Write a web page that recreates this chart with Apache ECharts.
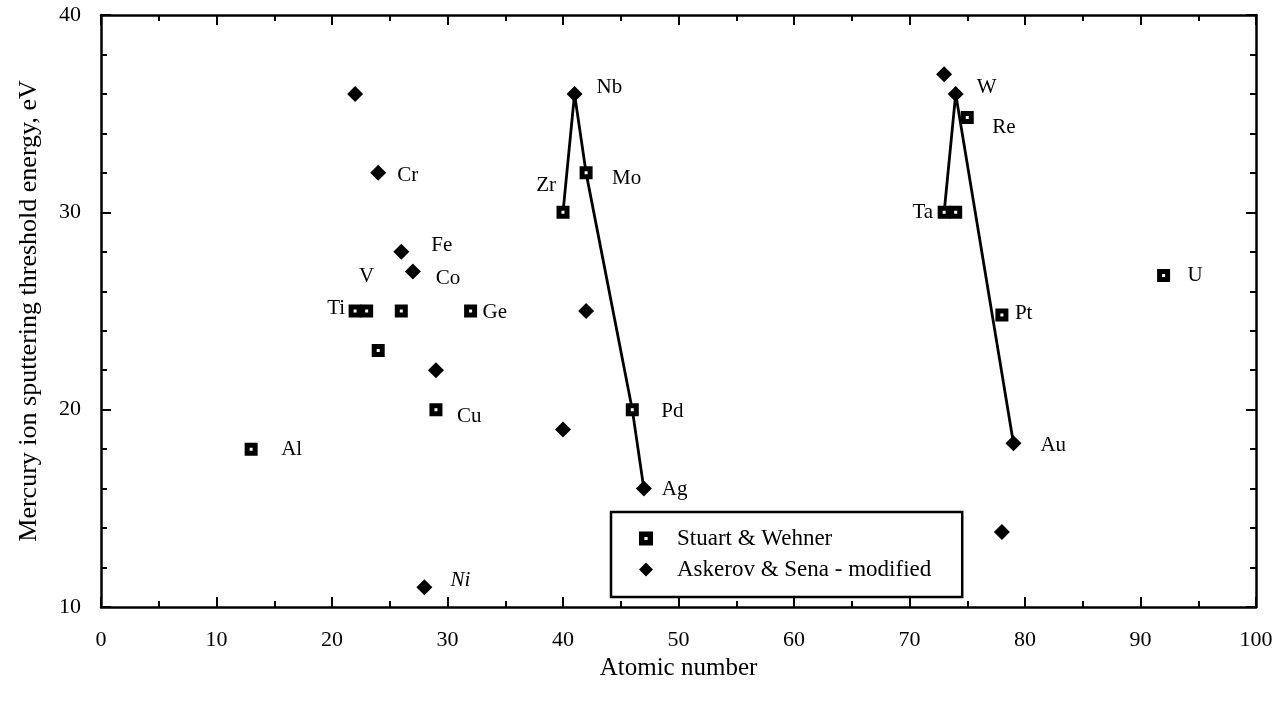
<!DOCTYPE html>
<html>
<head>
<meta charset="utf-8">
<script src="https://cdn.jsdelivr.net/npm/echarts@6/dist/echarts.min.js"></script>
<style>
  html, body { margin: 0; padding: 0; background: #fff; }
  #chart { width: 1287px; height: 713px; }
</style>
</head>
<body>
<div id="chart"></div>
<script>
// Stuart & Wehner (open squares)
const stuartNames = ['Al', 'Ti', 'V', 'Cr', 'Fe', 'Cu', 'Ge', 'Zr', 'Mo', 'Pd', 'Ta', 'W', 'Re', 'Pt', 'U']
const stuartZ = [13, 22, 23, 24, 26, 29, 32, 40, 42, 46, 73, 74, 75, 78, 92]
const stuartE = [18, 25, 25, 23, 25, 20, 25, 30, 32, 20, 30, 30, 34.8, 24.8, 26.8]

// Askerov & Sena - modified (diamonds)
const askerovNames = ['Ti', 'Cr', 'Fe', 'Co', 'Ni', 'Cu', 'Zr', 'Nb', 'Mo', 'Ag', 'Ta', 'W', 'Pt', 'Au']
const askerovZ = [22, 24, 26, 27, 28, 29, 40, 41, 42, 47, 73, 74, 78, 79]
const askerovE = [36, 32, 28, 27, 11, 22, 19, 36, 25, 16, 37, 36, 13.8, 18.3]

// connecting lines: [series, element]
const chainNb = [['S', 'Zr'], ['A', 'Nb'], ['S', 'Mo'], ['S', 'Pd'], ['A', 'Ag']]
const chainW = [['S', 'Ta'], ['A', 'W'], ['A', 'Au']]

const xTicks = [0, 10, 20, 30, 40, 50, 60, 70, 80, 90, 100]
const yTicks = [10, 20, 30, 40]

// label placement: [dx, dy, align, italic]
const stuartLabels = {
  Al: [30, 0, 'left'], Ti: [-10, -3, 'right'], V: [0, -35, 'center'], Ge: [12, 1, 'left'],
  Cu: [21, 7, 'left'], Zr: [-7, -27, 'right'], Mo: [26, 6, 'left'], Pd: [29, 2, 'left'],
  Ta: [-11, 0, 'right'], Re: [25, 10, 'left'], Pt: [13, -1, 'left'], U: [24, 0, 'left']
}
const askerovLabels = {
  Cr: [19, 3, 'left'], Fe: [30, -6, 'left'], Co: [23, 7, 'left'], Ni: [26, -7, 'left', true],
  Nb: [22, -6, 'left'], Ag: [18, 1, 'left'], W: [21, -6, 'left'], Au: [27, 2, 'left']
}

const serif = '"Liberation Serif", "DejaVu Serif", serif'
// black square with a small white hole, like the printed marker
const squareIcon = 'path://M0,0H13V13H0Z M5,5V8H8V5Z'

function buildPoints (names, xs, ys, labels) {
  return names.map((name, i) => {
    const item = { name: name, value: [xs[i], ys[i]] }
    const l = labels[name]
    if (l) {
      item.label = {
        show: true,
        formatter: name,
        position: 'inside',
        offset: [l[0], l[1]],
        align: l[2],
        verticalAlign: 'middle',
        color: '#000',
        fontFamily: serif,
        fontSize: 21,
        fontStyle: l[3] ? 'italic' : 'normal'
      }
    }
    return item
  })
}

function lookup (key, name) {
  if (key === 'S') {
    const i = stuartNames.indexOf(name)
    return [stuartZ[i], stuartE[i]]
  }
  const i = askerovNames.indexOf(name)
  return [askerovZ[i], askerovE[i]]
}

function chainLine (chain) {
  return {
    type: 'line',
    data: chain.map(c => lookup(c[0], c[1])),
    symbol: 'none',
    silent: true,
    z: 1,
    lineStyle: { color: '#000', width: 2.8 }
  }
}

const axisLine = { show: true, onZero: false, lineStyle: { color: '#000', width: 2.5 } }
const tick = { inside: true, length: 10, lineStyle: { color: '#000', width: 2 } }

const chart = echarts.init(document.getElementById('chart'))
chart.setOption({
  animation: false,
  backgroundColor: '#fff',
  grid: { left: 101, right: 31, top: 15, bottom: 106 },
  legend: {
    data: [
      { name: 'Stuart & Wehner', icon: squareIcon, itemStyle: { color: '#000', borderWidth: 0 } },
      { name: 'Askerov & Sena - modified', icon: 'diamond', itemStyle: { color: '#000', borderWidth: 0 } }
    ],
    orient: 'vertical',
    left: 611,
    top: 512,
    padding: [15, 31, 16, 28],
    itemGap: 8,
    itemWidth: 14,
    itemHeight: 14,
    borderColor: '#000',
    borderWidth: 2.5,
    textStyle: { color: '#000', fontFamily: serif, fontSize: 23, padding: [0, 0, 0, 19] }
  },
  xAxis: [
    {
      type: 'value', min: 0, max: 100, interval: 10,
      name: 'Atomic number', nameLocation: 'middle', nameGap: 48,
      nameTextStyle: { color: '#000', fontFamily: serif, fontSize: 25 },
      axisLine: axisLine,
      axisTick: tick,
      minorTick: { show: true, splitNumber: 2, length: 6, lineStyle: { color: '#000', width: 2 } },
      axisLabel: {
        color: '#000', fontFamily: serif, fontSize: 22, margin: 22,
        customValues: xTicks
      },
      splitLine: { show: false }
    },
    {
      type: 'value', min: 0, max: 100, interval: 10, position: 'top',
      axisLine: axisLine,
      axisTick: tick,
      minorTick: { show: true, splitNumber: 2, length: 6, lineStyle: { color: '#000', width: 2 } },
      axisLabel: { show: false },
      splitLine: { show: false }
    }
  ],
  yAxis: [
    {
      type: 'value', min: 10, max: 40, interval: 10,
      name: 'Mercury ion sputtering threshold energy, eV', nameLocation: 'middle', nameGap: 59,
      nameTextStyle: { color: '#000', fontFamily: serif, fontSize: 26, padding: [0, 0, 0, 0] },
      axisLine: axisLine,
      axisTick: tick,
      minorTick: { show: true, splitNumber: 5, length: 6, lineStyle: { color: '#000', width: 2 } },
      axisLabel: {
        color: '#000', fontFamily: serif, fontSize: 22, margin: 20,
        customValues: yTicks
      },
      splitLine: { show: false }
    },
    {
      type: 'value', min: 10, max: 40, interval: 10, position: 'right',
      axisLine: axisLine,
      axisTick: tick,
      minorTick: { show: true, splitNumber: 5, length: 6, lineStyle: { color: '#000', width: 2 } },
      axisLabel: { show: false },
      splitLine: { show: false }
    }
  ],
  series: [
    chainLine(chainNb),
    chainLine(chainW),
    {
      name: 'Stuart & Wehner',
      type: 'scatter',
      symbol: 'rect',
      symbolSize: 8,
      z: 3,
      itemStyle: { color: '#fff', borderColor: '#000', borderWidth: 5, opacity: 1 },
      data: buildPoints(stuartNames, stuartZ, stuartE, stuartLabels)
    },
    {
      name: 'Askerov & Sena - modified',
      type: 'scatter',
      symbol: 'diamond',
      symbolSize: [16, 16],
      z: 3,
      itemStyle: { color: '#000', opacity: 1 },
      data: buildPoints(askerovNames, askerovZ, askerovE, askerovLabels)
    }
  ]
})
</script>
</body>
</html>
